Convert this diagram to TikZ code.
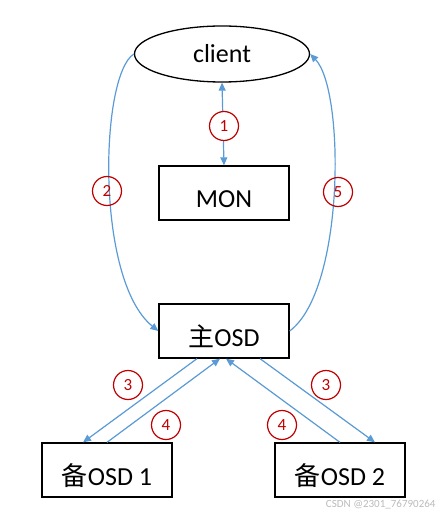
\documentclass[tikz,border=0pt]{standalone}
\usepackage{fontspec}
\setmainfont{Carlito}
\newfontfamily\cjk{Noto Sans CJK SC}
\usetikzlibrary{arrows.meta, shapes.geometric, calc}
\definecolor{myblue}{HTML}{5B9BD5}
\definecolor{myred}{HTML}{C00000}
\definecolor{mygray}{HTML}{BBBBBB}
\tikzset{
box/.style={
draw=black,
line width=1.3pt,
minimum width=130pt,
minimum height=54pt,
inner sep=0pt,
text height=30pt,
text depth=0pt,
font=\fontsize{26}{30}\selectfont
},
clientbox/.style={
ellipse,
draw=black,
line width=1.3pt,
minimum width=175pt,
minimum height=56pt,
inner sep=0pt,
font=\fontsize{26}{30}\selectfont
},
stepnum/.style={
circle,
draw=myred,
line width=1.2pt,
text=myred,
minimum size=29pt,
inner sep=0pt,
font=\fontsize{17}{20}\selectfont
},
arrow/.style={
-{Triangle[length=8pt,width=7pt]},
line width=1.2pt,
draw=myblue,
fill=myblue
}
}
\begin{document}
\begin{tikzpicture}[x=1pt,y=-1pt]
\useasboundingbox (0,0) rectangle (442,518);

\node[clientbox] (client) at (222,54) {client};
\node[box] (mon) at (224,193) {MON};
\node[box] (master) at (224,331) {{\cjk 主}OSD};
\node[box] (backupA) at (107,470) {{\cjk 备}OSD 1};
\node[box] (backupB) at (340,470) {{\cjk 备}OSD 2};

% client <-> MON
\draw[arrow, {Triangle[length=8pt,width=7pt]}-{Triangle[length=8pt,width=7pt]}] (client.south) -- (mon.north);
\node[stepnum, fill=white] (n1) at (224,126) {1};

% request and reply
\draw[arrow, fill=none] (client.west) .. controls (100,75) and (95,280) .. (master.west);
\draw[arrow, fill=none] (master.east) .. controls (345,290) and (345,90) .. (client.east);
\node[stepnum] (n2) at (107,191) {2};
\node[stepnum] (n5) at (338,192) {5};

% replication
\draw[arrow] ([xshift=-27pt]master.south) -- ([xshift=-24pt]backupA.north);
\draw[arrow] (backupA.north) -- ([xshift=-4pt]master.south);
\draw[arrow] (backupB.north) -- ([xshift=2pt]master.south);
\draw[arrow] ([xshift=36pt]master.south) -- ([xshift=35pt]backupB.north);
\node[stepnum] (n3a) at (128,385) {3};
\node[stepnum] (n4a) at (166,425) {4};
\node[stepnum] (n4b) at (282,425) {4};
\node[stepnum] (n3b) at (326,385) {3};

\node[text=mygray, anchor=east, font=\fontsize{11}{12}\selectfont] (mark) at (439,505) {CSDN @2301\_76790264};
\end{tikzpicture}
\end{document}
